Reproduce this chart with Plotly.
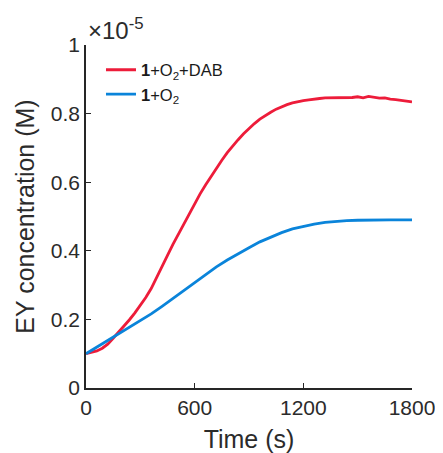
import plotly.graph_objects as go

# Time (s)
t_red = list(range(0, 1801, 30))
# EY concentration (x1e-5 M), 1+O2+DAB
y_red = [0.100, 0.103, 0.108, 0.116, 0.128, 0.145, 0.162, 0.180, 0.199, 0.219,
         0.240, 0.264, 0.290, 0.321, 0.353, 0.387, 0.419, 0.449, 0.479, 0.509,
         0.538, 0.566, 0.592, 0.617, 0.641, 0.664, 0.686, 0.706, 0.724, 0.741,
         0.757, 0.771, 0.784, 0.795, 0.804, 0.813, 0.820, 0.826, 0.831, 0.835,
         0.838, 0.840, 0.843, 0.844, 0.846, 0.846, 0.848, 0.847, 0.848, 0.847,
         0.849, 0.846, 0.850, 0.847, 0.845, 0.846, 0.842, 0.841, 0.838, 0.835,
         0.834]

t_blue = list(range(0, 1801, 60))
# EY concentration (x1e-5 M), 1+O2
y_blue = [0.100, 0.119, 0.138, 0.157, 0.176, 0.195, 0.216, 0.238, 0.261, 0.285,
          0.309, 0.331, 0.353, 0.373, 0.392, 0.409, 0.426, 0.440, 0.453, 0.464,
          0.472, 0.478, 0.483, 0.486, 0.488, 0.489, 0.490, 0.490, 0.490, 0.490,
          0.490]

x_ticks = [0, 600, 1200, 1800]
y_ticks = [0, 0.2, 0.4, 0.6, 0.8, 1]
y_ticklabels = ["0", "0.2", "0.4", "0.6", "0.8", "1"]

FONT = "Liberation Sans, Arial, sans-serif"
AX = "#262626"
TXT = "#2b2b2b"

fig = go.Figure()
fig.add_trace(go.Scatter(x=t_red, y=y_red, mode="lines",
                         line=dict(color="#ED1C3A", width=2.8),
                         name="<b>1</b>+O<sub>2</sub>+DAB"))
fig.add_trace(go.Scatter(x=t_blue, y=y_blue, mode="lines",
                         line=dict(color="#0A84DA", width=2.8),
                         name="<b>1</b>+O<sub>2</sub>"))

# page body has an 8px default margin, so the figure is a bit smaller
fig.update_layout(
    width=435, height=445,
    margin=dict(l=78, r=31, t=37, b=65),
    paper_bgcolor="white", plot_bgcolor="white",
    font=dict(family=FONT, color=TXT, size=21),
    showlegend=True,
    legend=dict(x=0.046, y=0.978, xanchor="left", yanchor="top",
                bgcolor="rgba(0,0,0,0)", font=dict(size=16.5, color="#1a1a1a"),
                itemwidth=30, tracegroupgap=0),
    xaxis=dict(range=[0, 1800], tickvals=x_ticks, ticks="inside", ticklen=5,
               tickcolor=AX, showline=True, linecolor=AX, linewidth=1.6,
               showgrid=False, zeroline=False, mirror=False, automargin=False,
               title=dict(text="Time (s)", standoff=14),
               tickfont=dict(size=21)),
    yaxis=dict(range=[0, 1], tickvals=y_ticks, ticktext=y_ticklabels,
               ticks="inside", ticklen=5, tickcolor=AX, showline=True,
               linecolor=AX, linewidth=1.6, showgrid=False, zeroline=False,
               automargin=False,
               title=dict(text="EY concentration (M)", standoff=9),
               tickfont=dict(size=21)),
)
fig.add_annotation(text="×10<sup>-5</sup>", xref="paper", yref="paper",
                   x=0.0, y=1.0, xanchor="left", yanchor="bottom", yshift=-1,
                   showarrow=False, font=dict(size=24, color=TXT))

fig.write_html("out.html")
